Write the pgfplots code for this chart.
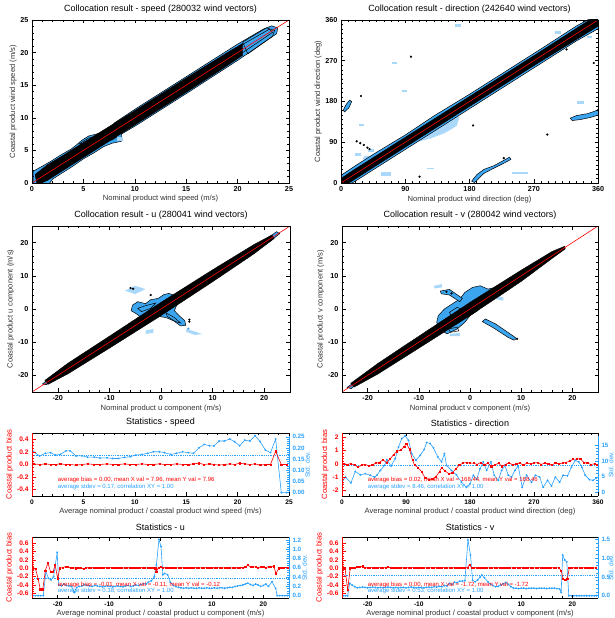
\documentclass[border=0pt]{standalone}
\usepackage{fontspec}
\setmainfont{Liberation Sans}
\usepackage{pgfplots}
\pgfplotsset{compat=1.18}
\definecolor{lb}{RGB}{170,216,250}
\definecolor{mb}{RGB}{60,165,240}
\definecolor{sb}{RGB}{40,160,255}
\definecolor{rd}{RGB}{255,0,0}
\tikzset{note/.style={anchor=west, font=\fontsize{6}{6}\selectfont, inner sep=0pt}}
\newcommand\lblfont{\fontsize{7.6}{8}\selectfont}
\pgfplotsset{
  idl/.style={scale only axis, anchor=south west, tick align=inside,
    major tick length=3.5pt, minor tick length=2pt,
    every tick/.style={line width=0.5pt},
    axis line style={line width=0.6pt},
    tick label style={font=\fontsize{7.2}{8}\selectfont\bfseries},
    /pgf/number format/assume math mode=true,
    label style={font=\lblfont, text=black!80},
    title style={font=\fontsize{9}{10}\selectfont, yshift=-3pt},
    axis on top},
  sc/.style={idl, xlabel style={yshift=3pt}, ylabel style={yshift=-3pt}},
  st/.style={idl, axis x line=box, axis y line*=left,
    tick label style={font=\fontsize{6.6}{7}\selectfont\bfseries},
    y axis line style={-, rd, line width=1pt},
    ytick style={rd}, yticklabel style={rd},
    ylabel style={font=\lblfont, rd, yshift=-3pt},
    ylabel={Coastal product bias}, xlabel style={font=\lblfont, text=black!80, yshift=3pt}},
  sr/.style={idl, axis x line=none, axis y line*=right,
    tick label style={font=\fontsize{6.2}{7}\selectfont\bfseries},
    y axis line style={-, sb, line width=1pt},
    ytick style={sb}, yticklabel style={sb},
    ylabel style={font=\fontsize{6.6}{7}\selectfont, sb, at={(axis description cs:1,0.5)}, anchor=north, inner sep=0pt},
    ylabel={Std. dev.}},
  bias/.style={rd, line width=0.6pt, mark=square*, mark size=0.6pt},
  sdev/.style={sb, line width=0.6pt, mark=*, mark size=0.6pt},
}
\begin{document}
\begin{tikzpicture}
\useasboundingbox (0pt,0pt) rectangle (615pt,618pt);

% ---------- speed scatter
\begin{axis}[sc, at={(32pt,435pt)}, width=257pt, height=163pt,
  xmin=0, xmax=25, ymin=0, ymax=25, xtick={0,5,...,25}, ytick={0,5,...,25}, minor tick num=4,
  title={Collocation result - speed (280032 wind vectors)},
  xlabel={Nominal product wind speed (m/s)}, ylabel={Coastal product wind speed (m/s)}]
\addplot[fill=mb, draw=black, line width=0.5pt] coordinates {
(0.1,-0.3)(0.1,1.8)(0.8,2.4)(1.8,3.3)(2.8,4.3)(3.8,5.2)(4.3,5.8)(4.8,6.5)(5.5,7.2)(6.5,7.6)(7.5,7.7)
(8.0,9.2)(10,11.3)(15,16.3)(20,21.3)(22.5,23.6)(23.3,24.1)(23.9,23.8)(23.8,22.9)(22.5,21.5)(20,18.8)
(15,13.7)(10,8.7)(8.7,7.5)(8.7,6.4)(7.8,6.1)(7,5.6)(6,4.6)(5,3.7)(4,2.6)(3,1.6)(2,0.6)(1.6,-0.3)} --cycle;
\addplot[draw=black, line width=0.5pt] coordinates {
(4.6,6.0)(5.5,6.9)(6.8,7.3)(7.6,7.3)(8.2,7.0)(7.8,6.6)(6.8,6.5)(5.8,5.9)} --cycle;
\addplot[fill=lb, draw=none] coordinates {(8.3,6.5)(8.9,6.5)(8.9,7.1)(8.3,7.1)} --cycle;
\addplot[fill=black, draw=black] coordinates {
(0.3,1.3)(1.5,2.8)(3,4.2)(5,6.2)(10,11.1)(15,16.1)(19,20.0)(20.5,21.4)
(20.5,19.6)(19,18.0)(15,13.9)(10,8.9)(5,3.9)(3,1.9)(1.5,0.4)(0.5,-0.3)} --cycle;
\addplot[draw=black, line width=0.5pt] coordinates {(20,20.8)(23.1,23.6)(23.4,23.1)(20.4,19.9)} --cycle;
\addplot[draw=black, line width=0.5pt] coordinates {(20.5,21.6)(22.8,23.8)(23.6,23.4)(23.4,22.5)(21,19.8)} --cycle;
\addplot[rd, line width=0.6pt] coordinates {(0,0)(25,25)};
\end{axis}

% ---------- direction scatter
\begin{axis}[sc, at={(341pt,435pt)}, width=257pt, height=163pt,
  xmin=0, xmax=360, ymin=0, ymax=360, xtick={0,90,...,360}, ytick={0,90,...,360}, minor tick num=8,
  title={Collocation result - direction (242640 wind vectors)},
  xlabel={Nominal product wind direction (deg)}, ylabel={Coastal product wind direction (deg)}]
\addplot[fill=lb, draw=none] coordinates {(100,88)(125,98)(145,110)(162,126)(166,146)(150,150)(125,128)(102,104)} --cycle;
\addplot[fill=lb, draw=none] coordinates {(200,214)(218,232)(242,250)(240,232)(218,210)} --cycle;
\addplot[fill=lb, draw=none] coordinates {(30,52)(45,50)(48,58)(33,60)} --cycle;
\addplot[fill=lb, draw=none] coordinates {(20,60)(28,60)(28,66)(20,66)} --cycle;
\addplot[fill=lb, draw=none] coordinates {(56,16)(70,16)(70,24)(56,24)} --cycle;
\addplot[fill=lb, draw=none] coordinates {(38,68)(46,68)(46,75)(38,75)} --cycle;
\addplot[fill=lb, draw=none] coordinates {(120,30)(130,30)(130,34)(120,34)} --cycle;
\addplot[fill=lb, draw=none] coordinates {(240,20)(262,20)(262,24)(240,24)} --cycle;
\addplot[fill=lb, draw=none] coordinates {(160,345)(168,345)(168,351)(160,351)} --cycle;
\addplot[fill=lb, draw=none] coordinates {(72,262)(78,262)(78,268)(72,268)} --cycle;
\addplot[fill=lb, draw=none] coordinates {(330,175)(340,175)(340,180)(330,180)} --cycle;
\addplot[fill=lb, draw=none] coordinates {(300,330)(308,330)(308,335)(300,335)} --cycle;
\addplot[fill=lb, draw=none] coordinates {(345,320)(352,320)(352,325)(345,325)} --cycle;
\addplot[fill=lb, draw=none] coordinates {(85,200)(92,200)(92,205)(85,205)} --cycle;
\addplot[fill=lb, draw=none] coordinates {(25,125)(32,125)(32,131)(25,131)} --cycle;
\addplot[fill=mb, draw=black, line width=0.5pt] coordinates {
(0,-3)(0,17)(20,38)(50,68)(90,106)(130,148)(180,196)(230,246)(280,296)(330,347)(350,364)(364,364)
(364,344)(330,314)(280,264)(230,214)(180,164)(130,114)(90,74)(50,34)(20,4)(12,-3)} --cycle;
\addplot[fill=black, draw=black] coordinates {
(0,-3)(0,10)(20,31)(90,101)(180,191)(270,281)(352,364)(364,364)(364,350)(270,259)(180,169)(90,79)(20,9)(8,-3)} --cycle;
\addplot[fill=mb, draw=black, line width=0.5pt] coordinates {(3,160)(7,173)(12,183)(15,180)(11,166)(5,157)} --cycle;
\addplot[fill=mb, draw=black, line width=0.5pt] coordinates {
(183,4)(190,18)(200,30)(214,38)(228,50)(236,57)(238,52)(226,42)(212,31)(200,21)(191,7)(187,1)} --cycle;
\addplot[fill=mb, draw=black, line width=0.5pt] coordinates {
(321,143)(330,149)(345,153)(358,160)(362,166)(362,151)(350,145)(335,140)(324,138)} --cycle;
\addplot[only marks, mark=*, mark size=0.9pt, black] coordinates {
(98,279)(28,192)(185,127)(289,107)(110,14)(354,265)(316,295)(22,92)(27,88)(32,84)(37,78)(40,75)(228,55)};
\addplot[rd, line width=0.6pt] coordinates {(0,0)(360,360)};
\end{axis}

% ---------- u scatter
\begin{axis}[sc, at={(32pt,226pt)}, width=258pt, height=166pt,
  xmin=-25, xmax=25, ymin=-25, ymax=25, xtick={-20,-10,...,20}, ytick={-20,-10,...,20}, minor tick num=4,
  title={Collocation result - u (280041 wind vectors)},
  xlabel={Nominal product u component (m/s)}, ylabel={Coastal product u component (m/s)}]
\addplot[fill=lb, draw=none] coordinates {(-7,5.5)(-5,7)(-3,6)(-5,4.5)} --cycle;
\addplot[fill=lb, draw=none] coordinates {(5,-6)(7,-7)(8,-7.6)(6.5,-7.8)(4.8,-6.8)} --cycle;
\addplot[fill=lb, draw=none] coordinates {(-3,-6.5)(-1.5,-6)(-1.5,-7.2)(-3,-7.5)} --cycle;
\addplot[fill=mb, draw=black, line width=0.5pt] coordinates {
(-5.8,-0.5)(-5.5,1.2)(-4.5,2.2)(-3,1.6)(-2,2.8)(-0.5,3.2)(0.5,4.3)(1.5,4.7)(2.8,4.0)(3.8,4.6)(4.3,3.2)
(3.5,2.0)(3,1)(2.6,-0.5)(3.5,-2)(4.6,-3.5)(4.8,-4.9)(3.8,-5.1)(2.5,-3.6)(1,-2.6)(-0.5,-2.2)(-2,-3.6)(-3.5,-3.1)(-4.6,-1.6)} --cycle;
\addplot[draw=black, line width=0.5pt] coordinates {(-4.5,0.2)(-3,1)(-1,1.8)(-2,0.2)(-3.8,-0.8)} --cycle;
\addplot[draw=black, line width=0.5pt] coordinates {(1,-1.2)(2.5,-2.5)(3.8,-4.2)(2.8,-3.8)(1.2,-2.2)} --cycle;
\addplot[fill=mb, draw=black, line width=0.5pt] coordinates {(-23,-22.6)(-21.5,-20.8)(-20.5,-20.6)(-22.2,-22.8)} --cycle;
\addplot[fill=mb, draw=black, line width=0.5pt] coordinates {(20,20.6)(22.4,23.3)(23,22.7)(21,20.2)} --cycle;
\addplot[fill=black, draw=black] coordinates {
(-22.5,-21.5)(-18,-16.3)(-10,-8.2)(0,2.0)(10,11.8)(18,19.4)(21.5,22.3)
(21.9,21.2)(18,16.6)(10,8.2)(0,-2.0)(-10,-11.8)(-18,-19.5)(-21.9,-22.7)} --cycle;
\addplot[only marks, mark=*, mark size=0.9pt, black] coordinates {(-5.9,6.3)(-5.4,6.1)(5.5,-3.2)(5.5,-3.8)(-2,4.2)(4.2,4.7)};
\addplot[only marks, mark=*, mark size=0.9pt, mb] coordinates {(5.3,-5.9)};
\addplot[rd, line width=0.6pt] coordinates {(-25,-25)(25,25)};
\end{axis}

% ---------- v scatter
\begin{axis}[sc, at={(342pt,226pt)}, width=256pt, height=166pt,
  xmin=-25, xmax=25, ymin=-25, ymax=25, xtick={-20,-10,...,20}, ytick={-20,-10,...,20}, minor tick num=4,
  title={Collocation result - v (280042 wind vectors)},
  xlabel={Nominal product v component (m/s)}, ylabel={Coastal product v component (m/s)}]
\addplot[fill=lb, draw=none] coordinates {(-7,7)(-5.5,7.5)(-5.5,6.5)(-7,6.2)} --cycle;
\addplot[fill=lb, draw=none] coordinates {(5,4)(6.5,3.5)(6.5,2.5)(5,3)} --cycle;
\addplot[fill=lb, draw=none] coordinates {(-4,-7.5)(-2,-7.2)(-2,-8.2)(-4,-8.2)} --cycle;
\addplot[fill=mb, draw=black, line width=0.5pt] coordinates {
(-6.5,-4)(-6.2,-2)(-5,0)(-3.5,1.5)(-2,3)(-1,5)(0.5,6.5)(2,7)(3.5,6)(5,6.5)(5.6,5)(4.5,3.5)(3,2.5)(2,1)
(1.5,-0.5)(0,-2)(-1,-4)(-2.5,-6)(-4.5,-7.5)(-6,-6)} --cycle;
\addplot[fill=mb, draw=black, line width=0.5pt] coordinates {(-5.8,5.4)(-4,5.9)(-1.5,3.2)(-2,2.2)(-4,4.2)(-5.6,4.6)} --cycle;
\addplot[fill=mb, draw=black, line width=0.5pt] coordinates {(3,-3)(5,-4.5)(8.5,-8.2)(9.1,-8.9)(8.6,-9.4)(7.5,-8.6)(4.5,-5.6)(2.4,-3.8)} --cycle;
\addplot[draw=black, line width=0.5pt] coordinates {(-4,-1)(-2.5,0.5)(-1,-0.5)(-1.5,-3)(-3,-4)} --cycle;
\addplot[draw=black, line width=0.5pt] coordinates {(-4.2,-6)(-2.5,-5.5)(-2.2,-6.6)(-3.8,-7)} --cycle;
\addplot[fill=mb, draw=black, line width=0.5pt] coordinates {(-24,-23.6)(-22.5,-22)(-21.5,-21.8)(-23.2,-24)} --cycle;
\addplot[fill=black, draw=black] coordinates {
(-23.3,-22.4)(-18,-16.4)(-10,-8.2)(0,2.0)(10,11.7)(16,17.3)(18.5,18.9)
(18.6,18.1)(16,15.2)(10,8.3)(0,-2.0)(-10,-11.8)(-18,-19.6)(-22.6,-23.5)} --cycle;
\addplot[only marks, mark=*, mark size=0.9pt, black] coordinates {(9.2,-9)(-4.6,5.2)(-3.6,4.7)};
\addplot[rd, line width=0.6pt] coordinates {(-25,-25)(25,25)};
\end{axis}

% ---------- statistics - speed
\begin{axis}[sr, at={(32pt,122pt)}, width=257pt, height=63pt,
  xmin=0, xmax=25, ymin=-0.015, ymax=0.267, ytick={0,0.05,...,0.25},
  yticklabel style={/pgf/number format/.cd, fixed, fixed zerofill, precision=2}, minor y tick num=4,
  ylabel style={yshift=-16pt}]
\addplot[sb, densely dotted, line width=0.8pt] coordinates {(0,0.167)(25,0.167)};
\addplot[sdev] coordinates {
(0.16,0.183)(0.74,0.164)(1.3,0.176)(1.8,0.179)(2.3,0.168)(2.75,0.171)(3.3,0.187)(3.7,0.187)(4.3,0.164)
(4.85,0.165)(5.4,0.159)(6.05,0.159)(6.6,0.155)(7.3,0.156)(7.85,0.153)(8.4,0.153)(9.0,0.158)(9.55,0.161)
(10.1,0.168)(10.7,0.171)(11.25,0.176)(11.8,0.183)(12.4,0.183)(12.9,0.179)(13.5,0.171)(14.05,0.176)
(14.65,0.183)(15.2,0.179)(15.7,0.176)(16.25,0.201)(16.75,0.216)(17.25,0.210)(17.7,0.209)(18.2,0.231)
(18.7,0.231)(19.25,0.240)(19.7,0.228)(20.2,0.210)(20.7,0.235)(21.2,0.231)(21.7,0.255)(22.2,0.228)
(22.7,0.191)(23.2,0.179)(23.7,0.240)(24.25,0.0)(24.75,0.0)};
\end{axis}
\begin{axis}[st, at={(32pt,122pt)}, width=257pt, height=63pt,
  xmin=0, xmax=25, ymin=-0.5, ymax=0.5, xtick={0,5,...,25}, ytick={-0.4,-0.2,...,0.4},
  minor x tick num=4, minor y tick num=3,
  yticklabel style={/pgf/number format/.cd, fixed, fixed zerofill, precision=1},
  title={Statistics - speed}, xlabel={Average nominal product / coastal product wind speed (m/s)}]
\addplot[bias] coordinates {
(0.16,0.01)(0.74,0.0)(1.3,0.01)(1.8,0.0)(2.3,0.0)(2.75,0.01)(3.3,0.0)(3.7,0.0)(4.3,-0.01)(4.85,0.0)
(5.4,0.01)(6.05,0.0)(6.6,0.0)(7.3,0.01)(7.85,0.0)(8.4,0.0)(9.0,0.01)(9.55,0.0)(10.1,0.0)(10.7,0.01)
(11.25,0.0)(11.8,0.0)(12.4,0.01)(12.9,0.0)(13.5,0.0)(14.05,0.01)(14.65,0.0)(15.2,0.0)(15.7,0.01)
(16.25,0.02)(16.75,0.0)(17.25,0.01)(17.7,0.0)(18.2,-0.01)(18.7,0.0)(19.25,0.01)(19.7,0.0)(20.2,0.02)
(20.7,0.01)(21.2,0.0)(21.7,0.01)(22.2,-0.01)(22.7,0.0)(23.2,0.0)(23.7,0.21)(24.25,0.0)(24.75,0.0)};
\node[note, text=rd] at (rel axis cs:0.10,0.25) {average bias = 0.00, mean X val = 7.96, mean Y val = 7.96};
\node[note, text=sb] at (rel axis cs:0.10,0.14) {average stdev = 0.17, correlation XY = 1.00};
\end{axis}

% ---------- statistics - direction
\begin{axis}[sr, at={(342pt,122pt)}, width=256pt, height=63pt,
  xmin=0, xmax=360, ymin=-1.04, ymax=18.8, ytick={0,5,10,15}, minor y tick num=4,
  ylabel style={yshift=-10.5pt}]
\addplot[sb, densely dotted, line width=0.8pt] coordinates {(0,8.46)(360,8.46)};
\addplot[sdev] coordinates {
(1,3.9)(5,4.9)(12.6,3.1)(18.7,6.7)(25.7,5.6)(32.7,6.0)(39.7,5.5)(45.8,4.9)(49,5.5)(53.8,7.0)(59.8,8.6)
(63,10.4)(69,8.4)(74.8,10.7)(79.5,14.4)(84,17.0)(88.8,17.9)(93.5,16.5)(98,12.3)(104,10.2)(110,11.8)
(115.5,13.6)(119,15.8)(124,15.5)(128.6,14.1)(134.6,11.3)(140,9.7)(144,12.3)(147,8.6)(154,7.0)(161,5.6)
(168,3.3)(175,1.7)(180,2.8)(184.7,5.5)(189.3,4.2)(194,7.5)(198.7,9.7)(203.4,7.0)(209.5,9.7)(214,5.5)
(219.7,3.9)(224.4,7.0)(229,8.6)(233.8,5.5)(238.4,4.9)(243,7.0)(247.8,8.4)(253.4,1.7)(259.5,5.5)(266.5,3.3)
(272,5.5)(278,4.9)(282.8,1.7)(289,3.9)(294.6,2.1)(300,4.9)(306,3.3)(311,5.5)(317,5.3)(322.6,8.0)(328,10.2)
(333,9.7)(337.5,8.0)(342,5.5)(348,4.1)(353,3.9)(357.6,4.6)};
\end{axis}
\begin{axis}[st, at={(342pt,122pt)}, width=256pt, height=63pt,
  xmin=0, xmax=360, ymin=-2.46, ymax=2.35, xtick={0,90,...,360}, ytick={-2,-1,...,2},
  minor x tick num=8, minor y tick num=4,
  title={Statistics - direction}, xlabel={Average nominal product / coastal product wind direction (deg)}]
\addplot[bias] coordinates {
(2.5,0)(7.5,-0.05)(12.5,0.02)(17.5,-0.1)(22.5,-0.25)(27.5,-0.1)(32.5,-0.05)(37.5,-0.15)(42.5,-0.1)(47.5,0.05)
(52.5,0.1)(57.5,0.3)(62.5,0.1)(67.5,0.35)(72.5,0.7)(77.5,0.95)(82.5,1.05)(87.5,1.3)(90.5,1.55)(95,1.1)
(99,0.3)(102,-0.1)(107,-0.3)(112,-0.6)(117,-1.1)(122,-1.2)(127,-1.15)(132,-1.0)(137,-0.6)(140,-0.3)
(145,-0.55)(150,-0.75)(155,-0.7)(160,-0.4)(165,-0.1)(170,0.05)(175,0.1)(180,0.05)(185,0.05)(190,-0.05)
(195,0.1)(200,-0.1)(205,0.05)(210,-0.2)(215,-0.1)(220,0.05)(225,-0.2)(230,-0.05)(235,0.1)(240,-0.1)
(245,0)(250,0.05)(255,-0.1)(260,0.05)(265,0)(270,0.05)(275,0.1)(280,-0.05)(285,0.05)(290,0)(295,-0.1)
(300,0.05)(305,0)(310,0.05)(315,0.1)(320,0.2)(325,0.35)(330,0.35)(335,0.4)(340,0.1)(345,0.05)(350,-0.05)
(355,0)(358,-0.05)};
\node[note, text=rd] at (rel axis cs:0.10,0.25) {average bias = 0.02, mean X val = 168.44, mean Y val = 168.46};
\node[note, text=sb] at (rel axis cs:0.10,0.14) {average stdev = 8.46, correlation XY = 1.00};
\end{axis}

% ---------- statistics - u
\begin{axis}[sr, at={(32pt,20pt)}, width=257pt, height=61pt,
  xmin=-25, xmax=25, ymin=-0.05, ymax=1.265, ytick={0,0.2,...,1.2}, minor y tick num=3,
  yticklabel style={/pgf/number format/.cd, fixed, fixed zerofill, precision=1},
  ylabel style={yshift=-13pt}]
\addplot[sb, densely dotted, line width=0.8pt] coordinates {(-25,0.38)(25,0.38)};
\addplot[sdev] coordinates {
(-24.8,0)(-24.3,0)(-23.8,0)(-23.3,0)(-22.8,0)(-22.3,0.52)(-21.8,0.375)(-21.3,0.34)(-20.8,0.41)(-20.1,0.935)
(-19.8,0.23)(-19.3,0.215)(-18.8,0.25)(-18.3,0.22)(-17.8,0.21)(-17.3,0.2)(-16.8,0.07)(-16.3,0.18)(-15.8,0.2)
(-15.3,0.21)(-14.8,0.24)(-14.3,0.22)(-13.8,0.21)(-13.3,0.2)(-12.8,0.22)(-12.3,0.21)(-11.8,0.2)(-11.3,0.19)
(-10.8,0.2)(-10.3,0.21)(-9.8,0.2)(-9.3,0.19)(-8.8,0.2)(-8.3,0.21)(-7.8,0.2)(-7.3,0.19)(-6.8,0.21)(-6.3,0.22)
(-5.8,0.2)(-5.3,0.21)(-4.8,0.23)(-4.3,0.22)(-3.8,0.24)(-3.3,0.26)(-2.8,0.25)(-2.4,0.29)(-1.8,0.32)(-1.2,0.41)
(-0.8,0.66)(-0.3,1.21)(0.1,1.06)(0.45,0.45)(0.8,0.48)(1.4,0.45)(1.9,0.29)(2.5,0.22)(3,0.195)(3.5,0.18)
(4,0.17)(4.5,0.16)(5,0.17)(5.5,0.16)(6,0.17)(6.5,0.16)(7,0.16)(7.5,0.17)(8,0.16)(8.5,0.16)(9,0.17)(9.5,0.16)
(10,0.16)(10.5,0.17)(11,0.16)(11.5,0.17)(12,0.17)(12.5,0.16)(13,0.17)(13.5,0.18)(14,0.18)(14.5,0.2)(15,0.21)
(15.5,0.22)(16,0.23)(16.5,0.25)(17,0.27)(17.5,0.24)(18,0.22)(18.5,0.25)(19,0.23)(19.5,0.2)(20,0.22)
(20.5,0.25)(21,0.2)(21.7,0.3)(22.4,0.16)(22.7,0)(23.2,0)(23.7,0)(24.2,0)(24.7,0)};
\end{axis}
\begin{axis}[st, at={(32pt,20pt)}, width=257pt, height=61pt,
  xmin=-25, xmax=25, ymin=-0.71, ymax=0.75, xtick={-20,-10,...,20}, ytick={-0.6,-0.4,...,0.6},
  minor x tick num=4, minor y tick num=3,
  yticklabel style={/pgf/number format/.cd, fixed, fixed zerofill, precision=1},
  title={Statistics - u}, xlabel={Average nominal product / coastal product u component (m/s)}]
\addplot[bias] coordinates {
(-24.8,0)(-24.3,-0.02)(-23.8,-0.25)(-23.4,-0.5)(-22.9,-0.5)(-22.4,-0.05)(-21.9,0.13)(-21.4,-0.08)(-20.9,-0.08)
(-20.5,0.08)(-20.0,-0.24)(-19.6,0.0)(-19,0.02)(-18.5,0.04)(-18,0.03)(-17.5,0.01)(-17,0.02)(-16.5,0.0)
(-16,0.02)(-15.5,0.01)(-15,-0.01)(-14.5,0.02)(-14,0.01)(-13.5,0.02)(-13,0.01)(-12.5,0.02)(-12,0.01)
(-11.5,0.01)(-11,0.02)(-10.5,0.01)(-10,0.01)(-9.5,0.02)(-9,0.01)(-8.5,0.01)(-8,0.02)(-7.5,0.01)(-7,0.01)
(-6.5,0.02)(-6,0.01)(-5.5,0.01)(-5,0.02)(-4.5,0.01)(-4,0.01)(-3.5,0.02)(-3,0.01)(-2.5,0.01)(-2,0.02)
(-1.5,0.01)(-1,0.0)(-0.8,-0.08)(-0.4,0.02)(0,0.03)(0.5,0.01)(1,0.02)(1.5,0.01)(2,0.01)(2.5,0.02)(3,0.01)
(3.5,0.01)(4,0.02)(4.5,0.01)(5,0.01)(5.5,0.02)(6,0.01)(6.5,0.01)(7,0.02)(7.5,0.01)(8,0.01)(8.5,0.02)
(9,0.01)(9.5,0.01)(10,0.02)(10.5,0.01)(11,0.01)(11.5,0.02)(12,0.01)(12.5,0.01)(13,0.02)(13.5,0.01)(14,0.01)
(14.5,0.02)(15,0.01)(15.5,0.02)(16,0.02)(16.5,0.03)(17,0.08)(17.5,0.03)(18,0.04)(18.5,0.03)(19,0.02)
(19.5,0.03)(20,0.03)(20.5,0.02)(21,0.04)(21.5,0.03)(22,0.05)(22.5,-0.12)(23,0.0)(23.5,0.02)(24,0.02)(24.8,0.02)};
\node[note, text=rd] at (rel axis cs:0.10,0.21) {average bias = -0.01, mean X val = -0.11, mean Y val = -0.12};
\node[note, text=sb] at (rel axis cs:0.10,0.11) {average stdev = 0.38, correlation XY = 1.00};
\end{axis}

% ---------- statistics - v
\begin{axis}[sr, at={(342pt,20pt)}, width=256pt, height=61pt,
  xmin=-25, xmax=25, ymin=-0.06, ymax=1.56, ytick={0,0.5,1,1.5}, minor y tick num=4,
  yticklabel style={/pgf/number format/.cd, fixed, fixed zerofill, precision=1},
  ylabel style={yshift=-10.5pt}]
\addplot[sb, densely dotted, line width=0.8pt] coordinates {(-25,0.53)(25,0.53)};
\addplot[sdev] coordinates {
(-24.8,0)(-24.3,0)(-23.9,0)(-23.5,0.33)(-23,0.28)(-22.5,0.24)(-22,0.21)(-21.5,0.22)(-21,0.23)(-20.5,0.22)
(-20,0.21)(-19.5,0.22)(-19,0.23)(-18.5,0.22)(-18,0.21)(-17.5,0.22)(-17,0.21)(-16.5,0.22)(-16,0.23)(-15.5,0.22)
(-15,0.21)(-14.5,0.22)(-14,0.21)(-13.5,0.22)(-13,0.22)(-12.5,0.21)(-12,0.22)(-11.5,0.23)(-11,0.22)(-10.5,0.21)
(-10,0.22)(-9.5,0.22)(-9,0.21)(-8.5,0.22)(-8,0.23)(-7.5,0.22)(-7,0.24)(-6.5,0.23)(-6,0.25)(-5.5,0.24)(-5,0.27)
(-4.5,0.26)(-4,0.33)(-3.5,0.3)(-3,0.36)(-2.5,0.35)(-2,0.39)(-1.5,0.39)(-1,0.4)(-0.4,1.48)(0.1,1.08)(0.5,0.41)
(1,0.37)(1.5,0.42)(2,0.5)(2.3,0.55)(2.8,0.48)(3.5,0.37)(4,0.31)(4.5,0.27)(5,0.24)(5.5,0.25)(6,0.28)(6.5,0.32)
(7,0.35)(7.5,0.3)(8,0.24)(8.5,0.2)(9,0.2)(9.5,0.19)(10,0.2)(10.5,0.2)(11,0.19)(11.5,0.2)(12,0.2)(12.5,0.2)
(13,0.19)(13.5,0.2)(14,0.2)(14.5,0.2)(15,0.19)(15.5,0.2)(16,0.2)(16.5,0.2)(17,0.19)(17.5,0.18)(17.8,0.09)
(18.1,1.08)(18.5,0.95)(18.9,0.9)(19.3,0)(19.8,0)(20.3,0)(20.8,0)(21.3,0)(21.8,0)(22.3,0)(22.8,0)(23.3,0)
(23.8,0)(24.3,0)(24.7,0)};
\end{axis}
\begin{axis}[st, at={(342pt,20pt)}, width=256pt, height=61pt,
  xmin=-25, xmax=25, ymin=-0.71, ymax=0.75, xtick={-20,-10,...,20}, ytick={-0.6,-0.4,...,0.6},
  minor x tick num=4, minor y tick num=3,
  yticklabel style={/pgf/number format/.cd, fixed, fixed zerofill, precision=1},
  title={Statistics - v}, xlabel={Average nominal product / coastal product v component (m/s)}]
\addplot[bias] coordinates {
(-24.8,0)(-24.4,0)(-23.9,-0.52)(-23.4,0.0)(-23,0.02)(-22.5,0.01)(-22,0.03)(-21.5,0.04)(-21,0.05)(-20.5,0.02)
(-20,0.01)(-19.5,0.02)(-19,0.01)(-18.5,0.02)(-18,0.01)(-17.5,0.02)(-17,0.01)(-16.5,0.02)(-16,0.03)(-15.5,0.01)
(-15,0.02)(-14.5,0.01)(-14,0.01)(-13.5,0.02)(-13,0.01)(-12.5,0.02)(-12,0.01)(-11.5,0.01)(-11,0.02)(-10.5,0.01)
(-10,0.01)(-9.5,0.02)(-9,0.01)(-8.5,0.01)(-8,0.02)(-7.5,0.01)(-7,0.01)(-6.5,0.02)(-6,0.01)(-5.5,0.01)(-5,0.02)
(-4.5,0.01)(-4,0.01)(-3.5,0.02)(-3,0.01)(-2.5,0.01)(-2,0.02)(-1.5,0.01)(-1,0.01)(-0.5,0.02)(-0.1,0.08)(0.3,0.02)
(0.8,0.01)(1.3,0.02)(1.8,0.01)(2.3,0.01)(2.8,0.02)(3.3,0.01)(3.8,0.01)(4.3,0.02)(4.8,0.01)(5.3,0.01)(5.8,0.02)
(6.3,0.01)(6.8,0.01)(7.3,0.02)(7.8,0.01)(8.3,0.01)(8.8,0.02)(9.3,0.01)(9.8,0.01)(10.3,0.02)(10.8,0.01)
(11.3,0.01)(11.8,0.02)(12.3,0.01)(12.8,0.01)(13.3,0.02)(13.8,0.01)(14.3,0.01)(14.8,0.02)(15.3,0.01)(15.8,0.01)
(16.3,0.02)(16.8,0.01)(17.3,0.01)(17.8,-0.05)(18.2,-0.26)(18.6,-0.27)(19.0,-0.25)(19.4,0.01)(19.9,0.01)
(20.4,0.02)(20.9,0.01)(21.4,0.01)(21.9,0.02)(22.4,0.01)(22.9,0.01)(23.4,0.02)(23.9,0.01)(24.5,0.01)};
\node[note, text=rd] at (rel axis cs:0.10,0.21) {average bias = 0.00, mean X val = -1.72, mean Y val = -1.72};
\node[note, text=sb] at (rel axis cs:0.10,0.11) {average stdev = 0.53, correlation XY = 1.00};
\end{axis}
\end{tikzpicture}
\end{document}
